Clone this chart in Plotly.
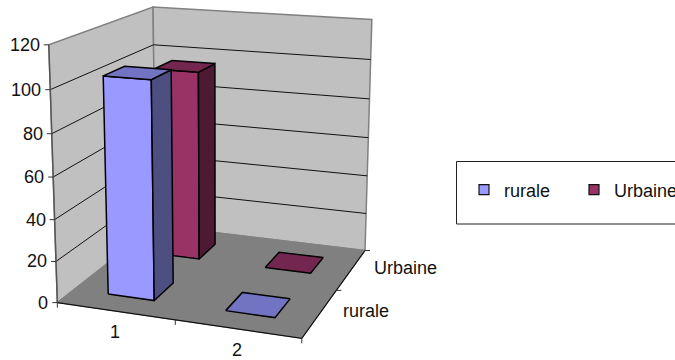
import numpy as np
import plotly.graph_objects as go

categories = ["1", "2"]
series_names = ["rurale", "Urbaine"]
rurale_values = [104, 0]
urbaine_values = [96, 0]
y_ticks = [0, 20, 40, 60, 80, 100, 120]

FONT = "Liberation Sans, Arial, sans-serif"
FS = 18
STYLE = {
    "rurale": dict(front="#9999FF", top="#7373C4", side="#4C4F80"),
    "Urbaine": dict(front="#993366", top="#73264F", side="#4D1933"),
}

# perspective camera: fitted from the box geometry of the 3D scene
world = np.array([(0,0,0),(0,0,120),(0,2,0),(0,2,120),(2,2,0),(2,2,120),(2,0,0),(1,0,0),(2,1,0),(0,0,60),
                  (2,2,100),(2,2,80),(0,2,100),(0,0,20),(0,0,100)], float)
image = np.array([(59,303),(49,45),(155,225),(153,7),(365,250),(372,19),(301,337),(174,321),(338,291),(52.7,176.7),
                  (370.7,60),(369,99.5),(154,45),(56,261.7),(50,89)], float)
A, b = [], []
for (X, Y, Z), (u, v) in zip(world, image):
    A.append([X, Y, Z, 1, 0, 0, 0, 0, -u*X, -u*Y, -u*Z]); b.append(u)
    A.append([0, 0, 0, 0, X, Y, Z, 1, -v*X, -v*Y, -v*Z]); b.append(v)
p = np.linalg.lstsq(np.array(A), np.array(b), rcond=None)[0]
P = np.append(p, 1).reshape(3, 4)

def proj(x, y, z):
    h = P @ np.array([x, y, z, 1.0])
    return float(h[0]/h[2]), float(h[1]/h[2])

fig = go.Figure()

def poly(pts, fill=None, color="black", width=1.0, close=True):
    xy = [proj(*q) for q in pts]
    if close:
        xy.append(xy[0])
    fig.add_trace(go.Scatter(
        x=[c[0] for c in xy], y=[c[1] for c in xy], mode="lines",
        line=dict(color=color, width=width) if width else dict(width=0),
        fill="toself" if fill else None, fillcolor=fill,
        showlegend=False, hoverinfo="skip"))

nx, ny = len(categories), len(series_names)
zmax = y_ticks[-1]

# walls and floor
poly([(0,0,0),(0,ny,0),(0,ny,zmax),(0,0,zmax)], fill="#C0C0C0", color="#808080", width=1.5)
poly([(0,ny,0),(nx,ny,0),(nx,ny,zmax),(0,ny,zmax)], fill="#C0C0C0", color="#808080", width=1.5)
for t in y_ticks[1:-1]:
    poly([(0,0,t),(0,ny,t),(nx,ny,t)], color="#111111", width=1.0, close=False)
poly([(0,0,0),(nx,0,0),(nx,ny,0),(0,ny,0)], fill="#808080", color="#808080", width=1.0)

# axes lines
poly([(0,0,0),(nx,0,0),(nx,ny,0)], color="#111111", width=1.2, close=False)
poly([(0,0,0),(0,0,zmax)], color="#555555", width=1.4, close=False)

def tick(a, dx, dy):
    x0, y0 = proj(*a)
    fig.add_trace(go.Scatter(x=[x0, x0+dx], y=[y0, y0+dy], mode="lines",
                             line=dict(color="#333333", width=1), showlegend=False, hoverinfo="skip"))

def label(text, a, dx, dy, anchor):
    x0, y0 = proj(*a)
    fig.add_annotation(x=x0+dx, y=y0+dy, text=text, showarrow=False, xref="x", yref="y",
                       xanchor=anchor, yanchor="middle", font=dict(family=FONT, size=FS, color="#111111"))

for t in y_ticks:
    tick((0,0,t), -5, 0)
    label(str(t), (0,0,t), -7, 0, "right")
for i in range(nx+1):
    tick((i,0,0), 0, 5)
for j in range(1, ny+1):
    tick((nx,j,0), 5, 0)
for i, c in enumerate(categories):
    label(c, (i+0.5,0,0), 0, 21, "center")
for j, s in enumerate(series_names):
    label(s, (nx,j+0.5,0), 21, -2, "left")

# bars back to front
def bar(i, j, v, st):
    x0, x1, y0, y1 = i+0.3, i+0.7, j+0.3, j+0.7
    if v > 0:
        poly([(x0,y0,0),(x1,y0,0),(x1,y0,v),(x0,y0,v)], fill=st["front"], width=1.5)
        poly([(x1,y0,0),(x1,y1,0),(x1,y1,v),(x1,y0,v)], fill=st["side"], width=1.5)
    poly([(x0,y0,v),(x1,y0,v),(x1,y1,v),(x0,y1,v)], fill=st["top"], width=1.5)

all_values = {"rurale": rurale_values, "Urbaine": urbaine_values}
for i in range(nx):
    for j in reversed(range(ny)):
        s = series_names[j]
        bar(i, j, all_values[s][i], STYLE[s])

# legend entries
for s in series_names:
    fig.add_trace(go.Scatter(x=[None], y=[None], mode="markers", name=s,
                             marker=dict(symbol="square", size=10, color=STYLE[s]["front"],
                                         line=dict(color="#111111", width=1.2))))

fig.add_shape(type="rect", xref="x", yref="y", x0=456.5, x1=720, y0=161.5, y1=224,
              line=dict(color="#222222", width=1), fillcolor="rgba(0,0,0,0)")

fig.update_layout(
    width=675, height=360, margin=dict(l=0, r=0, t=0, b=0, autoexpand=False),
    paper_bgcolor="white", plot_bgcolor="white",
    xaxis=dict(range=[0, 675], visible=False, fixedrange=True),
    yaxis=dict(range=[360, 0], visible=False, fixedrange=True),
    legend=dict(orientation="h", x=464/675, y=1-190/360, xanchor="left", yanchor="middle",
                font=dict(family=FONT, size=FS, color="#111111"),
                bgcolor="rgba(0,0,0,0)", borderwidth=0, entrywidth=65, entrywidthmode="pixels",
                itemclick=False, itemdoubleclick=False),
    font=dict(family=FONT, size=FS),
)
fig.write_html("out.html", config={"displayModeBar": False},
               post_script="document.body.style.margin='0';document.body.style.overflow='hidden';")
